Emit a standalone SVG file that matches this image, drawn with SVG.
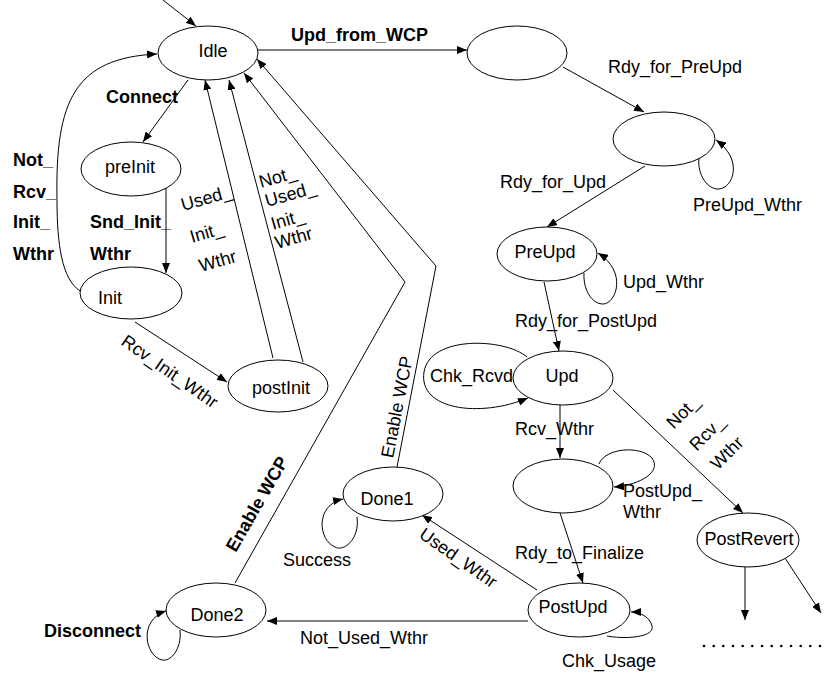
<svg xmlns="http://www.w3.org/2000/svg" width="825" height="675" viewBox="0 0 825 675">
<defs>
<marker id="arr" viewBox="0 0 10 8" refX="10" refY="4" markerWidth="10" markerHeight="8" orient="auto" markerUnits="userSpaceOnUse"><path d="M0,0 L10,4 L0,8 Z" fill="#000"/></marker>
</defs>
<style>
.n{fill:#fff;stroke:#000;stroke-width:1}
.c{fill:none;stroke:#000;stroke-width:1}
.a{marker-end:url(#arr)}
.d{fill:#000}
text{font-family:"Liberation Sans",Arial,Helvetica,sans-serif;font-size:18px;fill:#000}
.b{font-weight:bold}
.m{text-anchor:middle}
</style>
<rect width="825" height="675" fill="#fff"/>
<g id="connectors">
<path class="c a" d="M163 0 L196 26"/>
<path class="c a" d="M258 50 L467 50"/>
<path class="c a" d="M563 67 L644 112"/>
<path class="c a" d="M645 166 L547 227"/>
<path class="c a" d="M699 158 C697 175 708 190 719 189 C733 188 744 160 716 140"/>
<path class="c a" d="M584 273 C583 290 592 304 603 304 C616 304 628 272 598 253"/>
<path class="c a" d="M544 282 L559 351"/>
<path class="c a" d="M527 357 C505 338 430 335 424 372 C418 410 480 418 528 398"/>
<path class="c a" d="M560 405 L560 458"/>
<path class="c a" d="M599 464 C605 448 640 445 652 458 C662 472 640 485 614 487"/>
<path class="c a" d="M560 513 L583 583"/>
<path class="c a" d="M607 636 C630 640 655 636 652 626 C650 617 640 612 631 612"/>
<path class="c a" d="M528 621 L267 621"/>
<path class="c a" d="M537 590 L422 515"/>
<path class="c a" d="M357 517 C360 540 343 552 335 547 C318 540 315 505 343 499"/>
<path class="c a" d="M180 630 C182 650 170 662 162 660 C145 656 138 620 166 611"/>
<path class="c a" d="M235 583 L405 282 L244 73"/>
<path class="c a" d="M397 467 L436 266 L257 59"/>
<path class="c a" d="M613 390 L743 513"/>
<path class="c a" d="M745 567 L745 620"/>
<path class="c a" d="M785 558 L821 613"/>
<g id="dots">
<circle class="d" cx="704" cy="646" r="1.3"/><circle class="d" cx="713.7" cy="646" r="1.3"/><circle class="d" cx="723.3" cy="646" r="1.3"/><circle class="d" cx="733" cy="646" r="1.3"/><circle class="d" cx="742.7" cy="646" r="1.3"/><circle class="d" cx="752.3" cy="646" r="1.3"/><circle class="d" cx="762" cy="646" r="1.3"/><circle class="d" cx="771.7" cy="646" r="1.3"/><circle class="d" cx="781.3" cy="646" r="1.3"/><circle class="d" cx="791" cy="646" r="1.3"/><circle class="d" cx="800.7" cy="646" r="1.3"/><circle class="d" cx="810.3" cy="646" r="1.3"/><circle class="d" cx="820" cy="646" r="1.3"/>
</g>
<path class="c a" d="M188 80 L143 142"/>
<path class="c a" d="M166 188 L166 273"/>
<path class="c a" d="M80 291 C62 279 57 245 57 200 C55 100 75 58 157 54"/>
<path class="c a" d="M135 322 L227 382"/>
<path class="c a" d="M273 358 L205 80"/>
<path class="c a" d="M303 362 L229 80"/>
</g>
<g id="labels">
<text class="b" x="291" y="41">Upd_from_WCP</text>
<text x="608" y="73">Rdy_for_PreUpd</text>
<text x="500" y="188">Rdy_for_Upd</text>
<text x="693" y="211">PreUpd_Wthr</text>
<text x="623" y="288">Upd_Wthr</text>
<text x="515" y="327">Rdy_for_PostUpd</text>
<text x="430" y="382">Chk_Rcvd</text>
<text x="515" y="435">Rcv_Wthr</text>
<text x="623" y="497">PostUpd_</text>
<text x="623" y="518">Wthr</text>
<text x="515" y="559">Rdy_to_Finalize</text>
<text x="562" y="667">Chk_Usage</text>
<text x="300" y="644">Not_Used_Wthr</text>
<text class="b" x="44" y="637">Disconnect</text>
<text x="283" y="566">Success</text>
<text class="b" x="106" y="103">Connect</text>
<text class="b" x="13" y="166">Not_</text>
<text class="b" x="13" y="198">Rcv_</text>
<text class="b" x="13" y="228">Init_</text>
<text class="b" x="13" y="260">Wthr</text>
<text class="b" x="90" y="228">Snd_Init_</text>
<text class="b" x="90" y="260">Wthr</text>
<text transform="translate(183 211) rotate(-16)">Used_</text>
<text transform="translate(192 243) rotate(-16)">Init_</text>
<text transform="translate(201 272) rotate(-16)">Wthr</text>
<text transform="translate(261 188) rotate(-16)">Not_</text>
<text transform="translate(267 207) rotate(-16)">Used_</text>
<text transform="translate(273 230) rotate(-16)">Init_</text>
<text transform="translate(277 249) rotate(-16)">Wthr</text>
<text transform="translate(120 344) rotate(35)">Rcv_Init_Wthr</text>
<text transform="translate(418 537) rotate(35)">Used_Wthr</text>
<text class="b m" transform="translate(257 504) rotate(-60)" y="6">Enable WCP</text>
<text class="m" transform="translate(397 407) rotate(-79)" y="6">Enable WCP</text>
<text class="m" x="683" y="418" transform="rotate(-45 683 412)">Not_</text>
<text class="m" x="707" y="439" transform="rotate(-45 707 433)">Rcv_</text>
<text class="m" x="727" y="459" transform="rotate(-45 727 453)">Wthr</text>
</g>
<g id="Idle"><ellipse class="n" cx="208" cy="53" rx="50" ry="27"/><text class="m" x="213" y="57">Idle</text></g>
<g id="S1"><ellipse class="n" cx="517" cy="53" rx="50" ry="27"/></g>
<g id="S2"><ellipse class="n" cx="664" cy="139" rx="51" ry="27"/></g>
<g id="PreUpd"><ellipse class="n" cx="547" cy="254" rx="50" ry="27"/><text class="m" x="545" y="258">PreUpd</text></g>
<g id="Upd"><ellipse class="n" cx="563" cy="378" rx="50" ry="27"/><text class="m" x="562" y="382">Upd</text></g>
<g id="S3"><ellipse class="n" cx="563" cy="486" rx="50" ry="27"/></g>
<g id="PostUpd"><ellipse class="n" cx="579" cy="610" rx="51" ry="27"/><text class="m" x="573" y="613">PostUpd</text></g>
<g id="PostRevert"><ellipse class="n" cx="748" cy="540" rx="51" ry="27"/><text class="m" x="749" y="545">PostRevert</text></g>
<g id="Done1"><ellipse class="n" cx="393" cy="494" rx="50" ry="27"/><text class="m" x="387" y="505">Done1</text></g>
<g id="Done2"><ellipse class="n" cx="216" cy="610" rx="50" ry="27"/><text class="m" x="217" y="621">Done2</text></g>
<g id="preInit"><ellipse class="n" cx="131" cy="169" rx="50" ry="27"/><text class="m" x="130" y="173">preInit</text></g>
<g id="Init"><ellipse class="n" cx="131" cy="293" rx="51" ry="26"/><text class="m" x="110" y="304">Init</text></g>
<g id="postInit"><ellipse class="n" cx="278" cy="386" rx="50" ry="26"/><text class="m" x="281" y="394">postInit</text></g>
</svg>
